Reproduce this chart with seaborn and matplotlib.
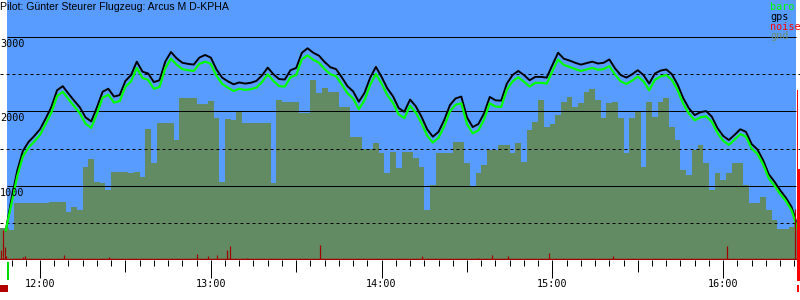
import numpy as np
import pandas as pd
import matplotlib
matplotlib.use("Agg")
import matplotlib.pyplot as plt
import matplotlib.transforms as mtransforms
from matplotlib.patches import Rectangle
import seaborn as sns

# ---------------- data (time in minutes after 12:00) ----------------
minutes = list(range(-14, 267, 2))
nan = float("nan")
gps = [nan, 400, 830, 1200, 1470, 1590, 1670, 1760, 1905, 2060,
       2285, 2340, 2240, 2145, 2055, 1920, 1865, 2055, 2265, 2305,
       2200, 2220, 2410, 2490, 2670, 2535, 2510, 2395, 2420, 2670,
       2800, 2715, 2655, 2640, 2630, 2725, 2760, 2725, 2565, 2455,
       2405, 2365, 2390, 2375, 2385, 2410, 2485, 2590, 2500, 2435,
       2430, 2555, 2585, 2790, 2850, 2790, 2750, 2665, 2595, 2570,
       2460, 2340, 2270, 2130, 2250, 2455, 2600, 2465, 2310, 2205,
       2045, 1995, 2160, 2070, 1930, 1760, 1660, 1725, 1885, 2085,
       2175, 2200, 1920, 1790, 1830, 1975, 2195, 2150, 2145, 2375,
       2490, 2545, 2490, 2420, 2465, 2465, 2455, 2625, 2790, 2710,
       2685, 2655, 2630, 2650, 2670, 2645, 2655, 2700, 2580, 2490,
       2455, 2500, 2555, 2490, 2375, 2510, 2550, 2565, 2500, 2360,
       2175, 2040, 1950, 1990, 2005, 1930, 1775, 1670, 1615, 1685,
       1760, 1725, 1560, 1490, 1345, 1155, 1055, 940, 840, 715,
       470]
baro = [nan, 400, 760, 1125, 1395, 1515, 1595, 1685, 1830, 1985,
        2205, 2265, 2165, 2070, 1975, 1835, 1780, 1970, 2185, 2225,
        2120, 2140, 2330, 2405, 2585, 2450, 2425, 2305, 2330, 2580,
        2710, 2630, 2570, 2555, 2545, 2640, 2670, 2640, 2480, 2370,
        2320, 2275, 2305, 2290, 2300, 2320, 2395, 2500, 2410, 2340,
        2335, 2460, 2490, 2700, 2755, 2695, 2655, 2570, 2500, 2475,
        2365, 2245, 2175, 2030, 2150, 2360, 2505, 2375, 2220, 2115,
        1960, 1910, 2075, 1985, 1845, 1675, 1580, 1645, 1800, 2000,
        2090, 2110, 1830, 1705, 1745, 1890, 2110, 2065, 2060, 2290,
        2405, 2460, 2400, 2335, 2385, 2385, 2375, 2540, 2700, 2625,
        2600, 2570, 2545, 2565, 2585, 2560, 2570, 2610, 2495, 2405,
        2370, 2415, 2470, 2405, 2285, 2425, 2470, 2490, 2425, 2285,
        2100, 1970, 1880, 1920, 1935, 1860, 1710, 1605, 1550, 1620,
        1695, 1660, 1500, 1430, 1290, 1100, 1000, 890, 795, 670,
        440]
gnd = [425, 425, 403, 770, 762, 762, 762, 762, 762, 785,
       785, 785, 650, 717, 673, 1255, 1354, 1054, 1031, 942,
       1188, 1188, 1188, 1166, 1179, 1121, 1762, 1300, 1838, 1838,
       1838, 1614, 2175, 2175, 2175, 2098, 2098, 2143, 1906, 1054,
       1892, 1883, 1995, 1838, 1838, 1838, 1838, 1847, 1031, 2152,
       2130, 2130, 2130, 1973, 1973, 2421, 2242, 2309, 2264, 2264,
       2063, 2063, 1659, 1659, 1489, 1489, 1569, 1435, 1166, 1457,
       1233, 1457, 1457, 1368, 1256, 673, 1009, 1435, 1435, 1435,
       1592, 1592, 1300, 986, 1166, 1278, 1480, 1480, 1547, 1547,
       1435, 1569, 1323, 1749, 1861, 2152, 1794, 1830, 1951, 2130,
       2197, 2063, 2107, 2264, 2296, 2152, 1906, 2116, 2130, 1906,
       1435, 1906, 1995, 1256, 2130, 1928, 2130, 2175, 1794, 1614,
       1211, 1143, 1480, 1547, 1300, 942, 1166, 1076, 1166, 1300,
       1300, 1009, 762, 762, 852, 673, 538, 413, 413, 448,
       493]
noise_t = [-13.7, -12.9, -12.3, -11.9, -5.9, -5.2, 5.0, 8.3, 24.3, 27.2,
           55.3, 59.1, 62.3, 65.8, 66.8, 72.8, 74.4, 81.4, 88.6, 98.4,
           107.7, 134.1, 135.9, 136.4, 148.7, 154.0, 158.9, 160.1, 164.5,
           178.9, 201.4, 211.6, 240.4, 241.5, 242.4, 264.6, 265.2]
noise_v = [135, 400, 180, 54, 40, 50, 15, 67, 40, 15,
           80, 54, 67, 135, 188, 27, 15, 15, 15, 200,
           15, 54, 15, 15, 15, 31, 67, 15, 54,
           99, 54, 15, 20, 188, 15, 20, 690]
hour_ticks = [0, 60, 120, 180, 240]
hour_labels = ["12:00", "13:00", "14:00", "15:00", "16:00"]
alt_ticks = [1000, 2000, 3000]
alt_labels = ["1000", "2000", "3000"]
dash_levels = [500, 1500, 2500]
legend_names = ["baro", "gps", "noise", "gnd"]
title = "Pilot: Günter Steurer Flugzeug: Arcus M D-KPHA"
takeoff, landing = -11.6, 265.4
landing_gps_top = 2290
landing_bar_top = 1210

# ---------------- styling ----------------
BLUE = "#589CFF"
GND = "#638B63"
GREEN = "#00FF00"
NOISE = "#A00000"
RED = "#FF0000"
MONO = "DejaVu Sans Mono"
PX = 72 / 100  # points per pixel

plt.rcParams["lines.scale_dashes"] = False
fig = plt.figure(figsize=(8, 3), dpi=100)
ax = fig.add_axes([0, 40 / 300, 1, 260 / 300])
ax.set_facecolor("white")
ax.set_xlim(-14.05, 266.98)
ax.set_ylim(0, 3500)
for s in ax.spines.values():
    s.set_visible(False)

ax.axvspan(takeoff, landing, color=BLUE, lw=0, zorder=0)
ax.fill_between(minutes, gnd, 0, step="mid", color=GND, lw=0, zorder=1)

for lv in dash_levels:
    ax.axhline(lv, color="black", lw=1 * PX, dashes=(3 * PX, 3 * PX), zorder=2)
ax.hlines(alt_ticks, takeoff, landing, color="black", lw=1 * PX, zorder=2)

df = pd.DataFrame({"t": minutes, "gps": gps, "baro": baro})
sns.lineplot(data=df, x="t", y="gps", color="black", lw=1.6 * PX * 1.2,
             estimator=None, ax=ax, zorder=4)
sns.lineplot(data=df, x="t", y="baro", color=GREEN, lw=2 * PX * 1.1,
             estimator=None, ax=ax, zorder=5)

ax.vlines(noise_t, 0, noise_v, color=NOISE, lw=1.2 * PX, zorder=6)
ax.axhline(0, color=NOISE, lw=2.5 * PX, zorder=6)

# ticks
ax.set_xticks(hour_ticks)
ax.set_xticklabels(hour_labels, fontfamily=MONO, fontsize=7.3)
ax.set_xticks([m for m in range(-10, 267, 5) if m % 30 != 0], minor=True)
ax.tick_params(axis="x", which="major", length=18 * PX, width=1 * PX,
               direction="out", pad=1, color="black")
ax.tick_params(axis="x", which="minor", length=6 * PX, width=1 * PX,
               direction="out", color="black")
ax.set_yticks([])
ax.set_xlabel("")
ax.set_ylabel("")
sec = ax.secondary_xaxis("bottom")
sec.set_xticks([30, 90, 150, 210])
sec.set_xticklabels([])
sec.tick_params(length=12 * PX, width=1 * PX, direction="out")
for s in sec.spines.values():
    s.set_visible(False)

for v, lab in zip(alt_ticks, alt_labels):
    ax.text(-14.05, v - 25, lab, va="top", ha="left", fontfamily=MONO,
            fontsize=7.3, color="black", zorder=7)

# takeoff / landing markers
trans = mtransforms.blended_transform_factory(ax.transData, ax.transAxes)
ax.add_patch(Rectangle((takeoff, -0.077), 0.8, 0.07, transform=trans,
                       color="#00DD00", lw=0, clip_on=False, zorder=7))
ax.add_patch(Rectangle((-14.05, -0.123), 2.8, 0.027, transform=trans,
                       color="#B00000", lw=0, clip_on=False, zorder=7))
ax.plot([266.0, 266.0], [-0.077, landing_gps_top / 3500], transform=trans,
        color=RED, lw=1 * PX, clip_on=False, zorder=7)
ax.plot([266.6, 266.6], [-0.077, landing_bar_top / 3500], transform=trans,
        color=RED, lw=2 * PX, clip_on=False, zorder=7)
ax.add_patch(Rectangle((265.9, -0.123), 0.7, 0.027, transform=trans,
                       color=RED, lw=0, clip_on=False, zorder=7))

# title & legend
fig.text(0, 1 - 1.5 / 300, title, va="top", ha="left",
         fontfamily="Liberation Sans", fontsize=7.6, color="black")
leg_colors = [GREEN, "black", RED, "#6E8E6E"]
for i, (name, c) in enumerate(zip(legend_names, leg_colors)):
    fig.text(770 / 800, 1 - (7.5 + 9.6 * i) / 300, name, va="center",
             ha="left", fontfamily=MONO, fontsize=7.3, color=c)

fig.savefig("out.png", dpi=100)
